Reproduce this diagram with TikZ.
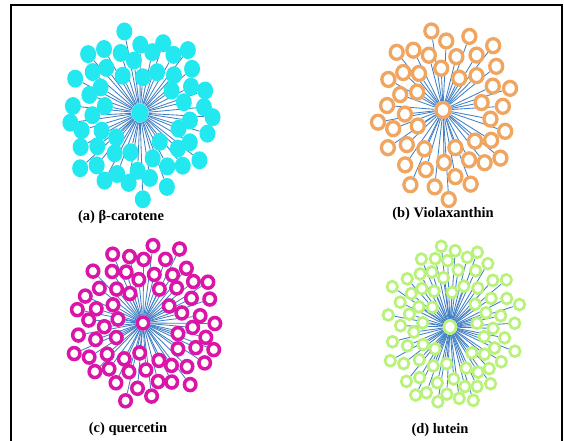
\documentclass[tikz,border=0pt]{standalone}
\usepackage{fontspec}
\setmainfont{Liberation Serif}
\usetikzlibrary{shapes.geometric,backgrounds}
\definecolor{cyanA}{RGB}{35,232,240}
\definecolor{orangeB}{RGB}{240,166,96}
\definecolor{magC}{RGB}{218,22,168}
\definecolor{greenD}{RGB}{184,242,122}
\definecolor{edgeblue}{RGB}{66,128,196}
\tikzset{
  edge/.style={draw=edgeblue,line width=0.85pt},
  anode/.style={ellipse,fill=cyanA,draw=none,minimum width=16pt,minimum height=18pt,inner sep=0pt},
  bnode/.style={ellipse,fill=white,draw=orangeB,line width=3.3pt,minimum width=13pt,minimum height=14pt,inner sep=0pt},
  cnode/.style={ellipse,fill=white,draw=magC,line width=3.5pt,minimum width=11.5pt,minimum height=12pt,inner sep=0pt},
  dnode/.style={ellipse,fill=white,draw=greenD,line width=2.7pt,minimum width=10.5pt,minimum height=11pt,inner sep=0pt},
  caption/.style={font=\fontsize{14.5}{16}\selectfont\bfseries,inner sep=0pt}
}
\begin{document}
\begin{tikzpicture}[x=1pt,y=-1pt]
\useasboundingbox (0,0) rectangle (564,441);
\draw[line width=1.8pt] (11,441) -- (11,5) -- (562,5) -- (562,441);

% (a) beta-carotene
\node[anode,minimum width=17pt,minimum height=19pt] (ca) at (140,113) {};
\foreach \k in {1,...,56}{
  \pgfmathsetmacro\ang{mod(\k*137.508,360)}
  \pgfmathsetmacro\rr{sqrt((\k+10)/66)*(1+0.04*sin(mod(\k*97,360)))}
  \node[anode] (a\k) at ({140+76*\rr*cos(\ang)},{113+85*\rr*sin(\ang)}) {};
}
\begin{pgfonlayer}{background}
\foreach \k in {1,...,56}{\draw[edge] (ca) -- (a\k);}
\end{pgfonlayer}

% (b) violaxanthin
\node[bnode,minimum width=14pt,minimum height=15pt] (cb) at (443,110) {};
\foreach \k in {1,...,46}{
  \pgfmathsetmacro\ang{mod(\k*137.508+20,360)}
  \pgfmathsetmacro\rr{sqrt((\k+8)/54)*(1+0.04*sin(mod(\k*83,360)))}
  \node[bnode] (b\k) at ({446+72*\rr*cos(\ang)},{112+86*\rr*sin(\ang)}) {};
}
\begin{pgfonlayer}{background}
\foreach \k in {1,...,46}{\draw[edge] (cb) -- (b\k);}
\end{pgfonlayer}

% (c) quercetin
\node[cnode] (cc) at (143,323) {};
\foreach \k in {1,...,62}{
  \pgfmathsetmacro\ang{mod(\k*137.508+50,360)}
  \pgfmathsetmacro\rr{sqrt((\k+8)/70)*(1+0.04*sin(mod(\k*101,360)))}
  \node[cnode] (q\k) at ({146+76*\rr*cos(\ang)},{323+80*\rr*sin(\ang)}) {};
}
\begin{pgfonlayer}{background}
\foreach \k in {1,...,62}{\draw[edge] (cc) -- (q\k);}
\end{pgfonlayer}

% (d) lutein
\node[dnode,minimum width=12pt,minimum height=13pt] (cd) at (450,327) {};
\foreach \k in {1,...,72}{
  \pgfmathsetmacro\ang{mod(\k*137.508+80,360)}
  \pgfmathsetmacro\rr{sqrt((\k+9)/81)*(1+0.04*sin(mod(\k*89,360)))}
  \node[dnode] (d\k) at ({452+68*\rr*cos(\ang)},{326+84*\rr*sin(\ang)}) {};
}
\begin{pgfonlayer}{background}
\foreach \k in {1,...,72}{\draw[edge] (cd) -- (d\k);}
\end{pgfonlayer}

\node[caption] (capa) at (121,217) {(a) β-carotene};
\node[caption] (capb) at (443,214) {(b) Violaxanthin};
\node[caption] (capc) at (128,429) {(c) quercetin};
\node[caption] (capd) at (440,430) {(d) lutein};
\end{tikzpicture}
\end{document}
